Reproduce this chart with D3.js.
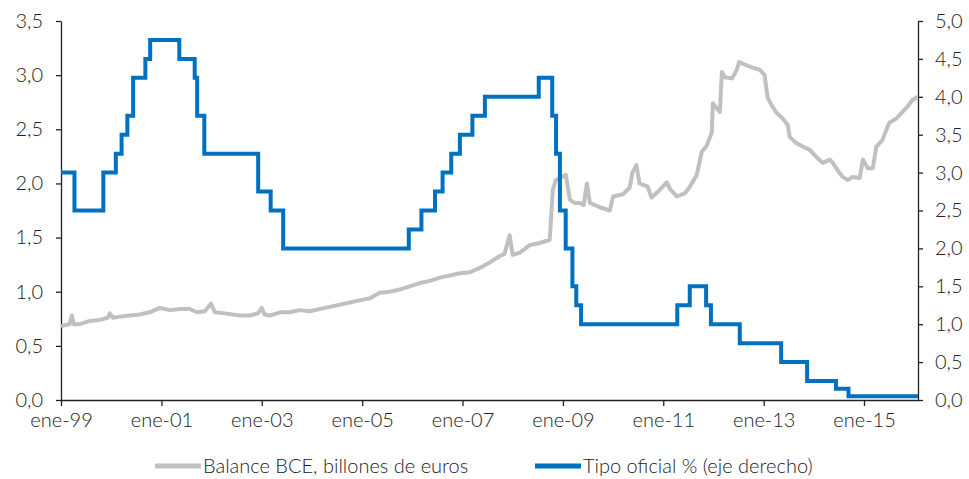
<!DOCTYPE html>
<meta charset="utf-8">
<style>
body {margin: 0; background: #fff;}
text {font-family: Lato, "Open Sans", sans-serif; font-weight: 300; fill: #222;}
.axis path, .axis line {stroke: #222; stroke-width: 1.3;}
</style>
<html>
<body>
<script src="https://d3js.org/d3.v7.min.js"></script>
<script>
var width = 969,
    height = 479;

// balance sheet of the ECB, trillions of euros (left axis)
var balanceDates = ["1999-01-01","1999-01-22","1999-03-05","1999-03-20","1999-04-05","1999-05-18","1999-07-30","1999-10-11","1999-12-08","1999-12-22",
  "2000-01-14","2000-03-05","2000-05-15","2000-07-27","2000-10-08","2000-12-20","2001-03-03","2001-05-15","2001-07-26","2001-09-16",
  "2001-11-13","2001-12-27","2002-01-25","2002-04-08","2002-07-26","2002-10-05","2002-12-03","2003-01-01","2003-01-22","2003-03-01",
  "2003-05-12","2003-07-24","2003-10-04","2003-12-16","2004-02-27","2004-05-10","2004-07-22","2004-10-03","2004-12-14","2005-02-26",
  "2005-05-08","2005-07-20","2005-10-01","2005-12-13","2006-02-24","2006-05-08","2006-07-20","2006-10-01","2006-12-12","2007-02-24",
  "2007-05-07","2007-07-18","2007-08-24","2007-09-30","2007-11-03","2007-12-10","2008-01-01","2008-02-22","2008-05-04","2008-07-16",
  "2008-09-27","2008-10-19","2008-11-10","2008-12-09","2009-01-22","2009-02-20","2009-03-28","2009-05-03","2009-06-01","2009-06-24",
  "2009-07-16","2009-09-27","2009-12-08","2010-01-01","2010-03-14","2010-05-01","2010-05-22","2010-06-20","2010-07-12","2010-09-09",
  "2010-10-08","2010-12-06","2011-01-27","2011-02-18","2011-04-10","2011-06-08","2011-07-14","2011-09-02","2011-10-08","2011-11-14",
  "2011-12-20","2011-12-28","2012-02-17","2012-03-03","2012-03-25","2012-05-15","2012-06-20","2012-07-05","2012-09-01","2012-10-12",
  "2012-12-03","2013-01-08","2013-01-30","2013-03-01","2013-04-05","2013-05-19","2013-06-25","2013-07-09","2013-08-29","2013-10-12",
  "2013-12-03","2014-01-22","2014-03-07","2014-04-27","2014-05-19","2014-06-24","2014-07-30","2014-09-05","2014-10-11","2014-12-01",
  "2014-12-24","2015-01-29","2015-03-06","2015-04-01","2015-05-15","2015-06-20","2015-07-05","2015-08-25","2015-10-08","2015-11-14",
  "2015-12-20","2016-01-26"];
var balanceValues = [0.68,0.69,0.70,0.78,0.70,0.70,0.73,0.74,0.76,0.80,
  0.76,0.77,0.78,0.79,0.81,0.85,0.83,0.84,0.84,0.81,
  0.82,0.89,0.81,0.80,0.78,0.78,0.80,0.85,0.79,0.78,
  0.81,0.81,0.83,0.82,0.84,0.86,0.88,0.90,0.92,0.94,
  0.99,1.00,1.02,1.05,1.08,1.10,1.13,1.15,1.17,1.18,
  1.22,1.27,1.30,1.33,1.35,1.52,1.34,1.36,1.43,1.45,
  1.48,1.94,2.03,2.05,2.08,1.85,1.82,1.82,1.80,2.00,
  1.82,1.78,1.75,1.88,1.90,1.96,2.10,2.17,2.00,1.97,
  1.87,1.94,2.01,1.95,1.88,1.91,1.97,2.08,2.29,2.35,
  2.47,2.74,2.66,3.03,2.98,2.97,3.05,3.12,3.09,3.07,
  3.05,3.00,2.79,2.72,2.65,2.60,2.54,2.43,2.37,2.34,
  2.31,2.24,2.19,2.22,2.19,2.12,2.06,2.03,2.06,2.05,
  2.22,2.14,2.14,2.34,2.40,2.52,2.56,2.60,2.66,2.71,
  2.77,2.80];

// official ECB rate, % (right axis)
var rateDates = ["1999-01-01","1999-04-09","1999-11-05","2000-02-04","2000-03-17","2000-04-28","2000-06-09","2000-09-06","2000-10-11","2001-05-11",
  "2001-08-31","2001-09-18","2001-11-09","2002-12-06","2003-03-07","2003-06-06","2005-12-06","2006-03-08","2006-06-15","2006-08-09",
  "2006-10-11","2006-12-13","2007-03-14","2007-06-13","2008-07-09","2008-10-15","2008-11-12","2008-12-10","2009-01-21","2009-03-11",
  "2009-04-08","2009-05-13","2011-04-13","2011-07-13","2011-11-09","2011-12-14","2012-07-11","2013-05-08","2013-11-13","2014-06-11",
  "2014-09-10","2016-01-29"];
var rateValues = [3.0,2.5,3.0,3.25,3.5,3.75,4.25,4.5,4.75,4.5,
  4.25,3.75,3.25,2.75,2.5,2.0,2.25,2.5,2.75,3.0,
  3.25,3.5,3.75,4.0,4.25,3.75,3.25,2.5,2.0,1.5,
  1.25,1.0,1.25,1.5,1.25,1.0,0.75,0.5,0.25,0.15,
  0.05,0.05];

var xTickDates = ["1999-01-01","2001-01-01","2003-01-01","2005-01-01","2007-01-01","2009-01-01","2011-01-01","2013-01-01","2015-01-01"];
var leftTicks = [0,0.5,1,1.5,2,2.5,3,3.5];
var rightTicks = [0,0.5,1,1.5,2,2.5,3,3.5,4,4.5,5];
var seriesNames = ["Balance BCE, billones de euros", "Tipo oficial % (eje derecho)"];
var seriesColors = ["#c0c0c0", "#0070c0"];

var parse = d3.timeParse("%Y-%m-%d");
var fmtNum = function(d) { return d3.format(".1f")(d).replace(".", ","); };
var fmtDate = d3.timeFormat("%y");

var margin = {top: 21, left: 61, right: 51, bottom: 79};

var svg = d3.select("body").append("svg")
    .attr("width", width)
    .attr("height", height);

var x = d3.scaleTime()
    .domain([parse("1999-01-01"), parse("2016-01-29")])
    .range([margin.left, width - margin.right]);

var yL = d3.scaleLinear().domain([0, 3.5]).range([height - margin.bottom, margin.top]);
var yR = d3.scaleLinear().domain([0, 5]).range([height - margin.bottom, margin.top]);

var balance = balanceDates.map(function(d, i) { return {date: parse(d), v: balanceValues[i]}; });
var rate = rateDates.map(function(d, i) { return {date: parse(d), v: rateValues[i]}; });

// axes
svg.append("g").attr("class", "axis")
    .attr("transform", "translate(0," + (height - margin.bottom) + ")")
    .call(d3.axisBottom(x).tickValues(xTickDates.map(parse))
        .tickFormat(function(d) { return "ene-" + fmtDate(d); })
        .tickSize(6).tickSizeOuter(0).tickPadding(7))
    .call(function(g) { g.selectAll("text").style("font-size", "20px"); });

svg.append("g").attr("class", "axis")
    .attr("transform", "translate(" + margin.left + ",0)")
    .call(d3.axisLeft(yL).tickValues(leftTicks).tickFormat(fmtNum).tickSize(5).tickSizeOuter(0).tickPadding(13))
    .call(function(g) { g.selectAll("text").style("font-size", "20px"); });

svg.append("g").attr("class", "axis")
    .attr("transform", "translate(" + (width - margin.right) + ",0)")
    .call(d3.axisRight(yR).tickValues(rightTicks).tickFormat(fmtNum).tickSize(5).tickSizeOuter(0).tickPadding(12))
    .call(function(g) { g.selectAll("text").style("font-size", "20px"); });

// lines
svg.append("path")
    .datum(balance)
    .attr("fill", "none")
    .attr("stroke", seriesColors[0])
    .attr("stroke-width", 4)
    .attr("stroke-linejoin", "round")
    .attr("d", d3.line().x(function(d) { return x(d.date); }).y(function(d) { return yL(d.v); }));

svg.append("path")
    .datum(rate)
    .attr("fill", "none")
    .attr("stroke", seriesColors[1])
    .attr("stroke-width", 4)
    .attr("d", d3.line().curve(d3.curveStepAfter).x(function(d) { return x(d.date); }).y(function(d) { return yR(d.v); }));

// legend
var legendX = [155, 535];
var leg = svg.selectAll(".legend").data(seriesNames).enter().append("g")
    .attr("class", "legend")
    .attr("transform", function(d, i) { return "translate(" + legendX[i] + "," + 466 + ")"; });
leg.append("line").attr("x1", 0).attr("x2", 46).attr("y1", 0).attr("y2", 0)
    .attr("stroke", function(d, i) { return seriesColors[i]; }).attr("stroke-width", 5);
leg.append("text").attr("x", 48).attr("dy", "0.35em").style("font-size", "20px").text(function(d) { return d; });
</script>
</body>
</html>
